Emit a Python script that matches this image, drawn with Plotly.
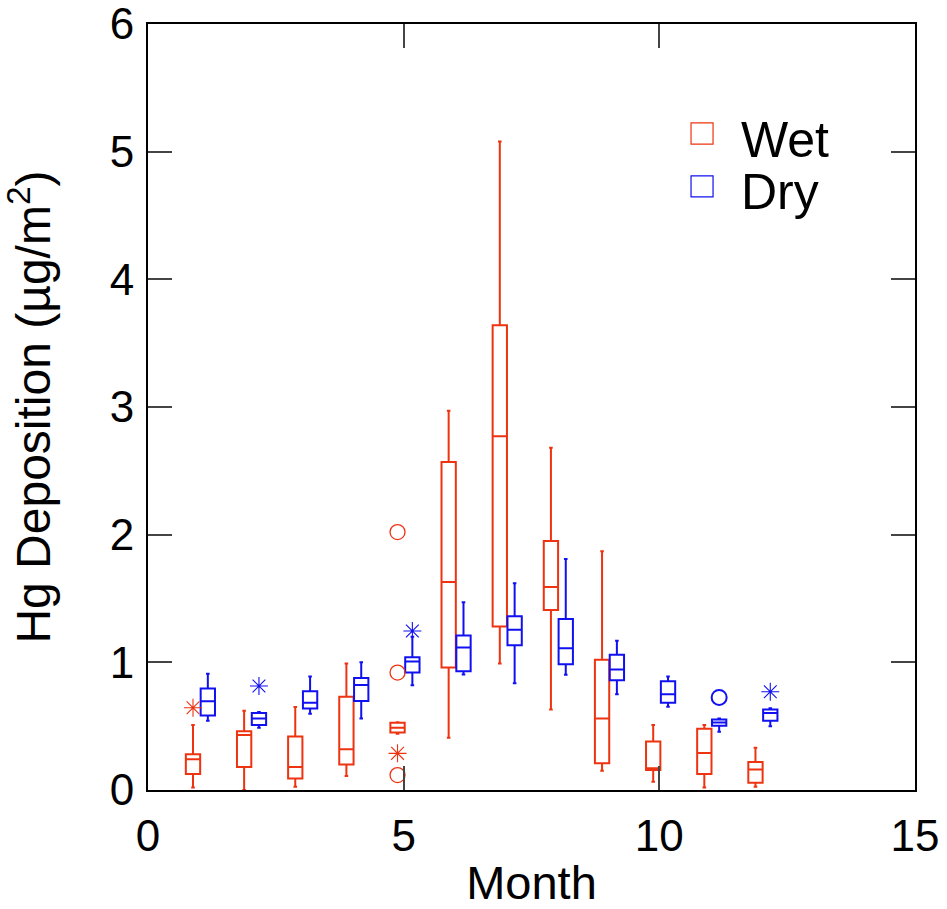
import plotly.graph_objects as go

months = list(range(1, 13))

# Wet deposition box statistics (µg/m²)
wet_upper = [0.51, 0.62, 0.65, 0.99, 0.53, 2.97, 5.08, 2.68, 1.87, 0.51, 0.51, 0.33]
wet_q3    = [0.28, 0.46, 0.42, 0.73, 0.526, 2.57, 3.64, 1.95, 1.02, 0.38, 0.48, 0.22]
wet_med   = [0.24, 0.43, 0.18, 0.32, 0.487, 1.63, 2.77, 1.59, 0.56, 0.17, 0.29, 0.16]
wet_q1    = [0.125, 0.18, 0.09, 0.20, 0.451, 0.96, 1.28, 1.41, 0.21, 0.156, 0.125, 0.057]
wet_lower = [0.02, 0.0, 0.026, 0.11, 0.44, 0.41, 0.99, 0.63, 0.15, 0.065, 0.02, 0.026]

# Dry deposition box statistics (µg/m²)
dry_upper = [0.91, 0.61, 0.89, 1.0, 1.20, 1.47, 1.62, 1.81, 1.17, 0.89, 0.56, 0.64]
dry_q3    = [0.795, 0.604, 0.774, 0.878, 1.04, 1.21, 1.36, 1.34, 1.06, 0.852, 0.553, 0.631]
dry_med   = [0.696, 0.56, 0.683, 0.823, 1.006, 1.116, 1.256, 1.11, 0.944, 0.75, 0.529, 0.604]
dry_q1    = [0.584, 0.51, 0.639, 0.698, 0.92, 0.93, 1.134, 0.985, 0.86, 0.683, 0.503, 0.542]
dry_lower = [0.542, 0.487, 0.597, 0.56, 0.821, 0.905, 0.837, 0.902, 0.75, 0.652, 0.456, 0.50]

# Outliers
wet_star_month = [1, 5]
wet_star_val = [0.644, 0.287]
wet_circ_month = [5, 5, 5]
wet_circ_val = [2.02, 0.92, 0.117]
dry_star_month = [2, 5, 12]
dry_star_val = [0.815, 1.246, 0.769]
dry_circ_month = [11]
dry_circ_val = [0.725]

series_names = ["Wet", "Dry"]

WET_OFF = -0.12
DRY_OFF = 0.17
RED = "#EE3311"
BLUE = "#1010F0"

wet_x = [m + WET_OFF for m in months]
dry_x = [m + DRY_OFF for m in months]

fig = go.Figure()

fig.add_trace(go.Box(
    x=wet_x, q1=wet_q1, median=wet_med, q3=wet_q3,
    lowerfence=wet_lower, upperfence=wet_upper,
    boxpoints=False, width=0.28, whiskerwidth=0.25, name=series_names[0],
    line=dict(color=RED, width=2), fillcolor="rgba(0,0,0,0)",
    showlegend=False, hoverinfo="skip"))

fig.add_trace(go.Box(
    x=dry_x, q1=dry_q1, median=dry_med, q3=dry_q3,
    lowerfence=dry_lower, upperfence=dry_upper,
    boxpoints=False, width=0.28, whiskerwidth=0.25, name=series_names[1],
    line=dict(color=BLUE, width=2), fillcolor="rgba(0,0,0,0)",
    showlegend=False, hoverinfo="skip"))

fig.add_trace(go.Scatter(
    x=[m + WET_OFF for m in wet_star_month], y=wet_star_val, mode="markers",
    marker=dict(symbol="asterisk-open", size=15, color=RED, line=dict(color=RED, width=1.1)),
    showlegend=False))
fig.add_trace(go.Scatter(
    x=[m + WET_OFF for m in wet_circ_month], y=wet_circ_val, mode="markers",
    marker=dict(symbol="circle-open", size=15, color=RED, line=dict(color=RED, width=1.3)),
    showlegend=False))
fig.add_trace(go.Scatter(
    x=[m + DRY_OFF for m in dry_star_month], y=dry_star_val, mode="markers",
    marker=dict(symbol="asterisk-open", size=15, color=BLUE, line=dict(color=BLUE, width=1.1)),
    showlegend=False))
fig.add_trace(go.Scatter(
    x=[m + DRY_OFF for m in dry_circ_month], y=dry_circ_val, mode="markers",
    marker=dict(symbol="circle-open", size=15, color=BLUE, line=dict(color=BLUE, width=2)),
    showlegend=False))

FONT = "Liberation Sans, Arial, sans-serif"

# Legend drawn as shapes + text annotations (paper coordinates)
legend_items = [
    (series_names[0], RED, 0.8708, 0.8433, 0.8486),
    (series_names[1], BLUE, 0.8016, 0.7742, 0.7807),
]
for name, col, y_top, y_bot, y_txt in legend_items:
    fig.add_shape(type="rect", xref="paper", yref="paper",
                  x0=0.7080, x1=0.7367, y0=y_bot, y1=y_top,
                  line=dict(color=col, width=1.2), fillcolor="rgba(0,0,0,0)")
    fig.add_annotation(xref="paper", yref="paper", x=0.7705, y=y_txt,
                       xanchor="left", yanchor="middle", text=name,
                       showarrow=False, font=dict(size=50, family=FONT, color="black"))

fig.update_layout(
    width=947, height=909,
    margin=dict(l=148, r=32, t=24, b=119),
    paper_bgcolor="white", plot_bgcolor="white",
    font=dict(family=FONT, color="black", size=44),
    showlegend=False,
    xaxis=dict(range=[0, 15], tickvals=[0, 5, 10, 15], ticks="inside", ticklen=24,
               tickwidth=2, showline=True, linewidth=2, linecolor="black",
               mirror="ticks", showgrid=False, zeroline=False, automargin=False,
               tickfont=dict(size=44), ticklabelstandoff=6, ticklabeloverflow="allow",
               title=dict(text="Month", font=dict(size=47), standoff=22)),
    yaxis=dict(range=[0, 6], tickvals=[0, 1, 2, 3, 4, 5, 6], ticks="inside", ticklen=24,
               tickwidth=2, showline=True, linewidth=2, linecolor="black",
               mirror="ticks", showgrid=False, zeroline=False, automargin=False,
               tickfont=dict(size=44), ticklabelstandoff=3, ticklabeloverflow="allow",
               title=dict(text="Hg Deposition (µg/m<sup>2</sup>)", font=dict(size=48), standoff=48)),
)

fig.write_html("out.html")
